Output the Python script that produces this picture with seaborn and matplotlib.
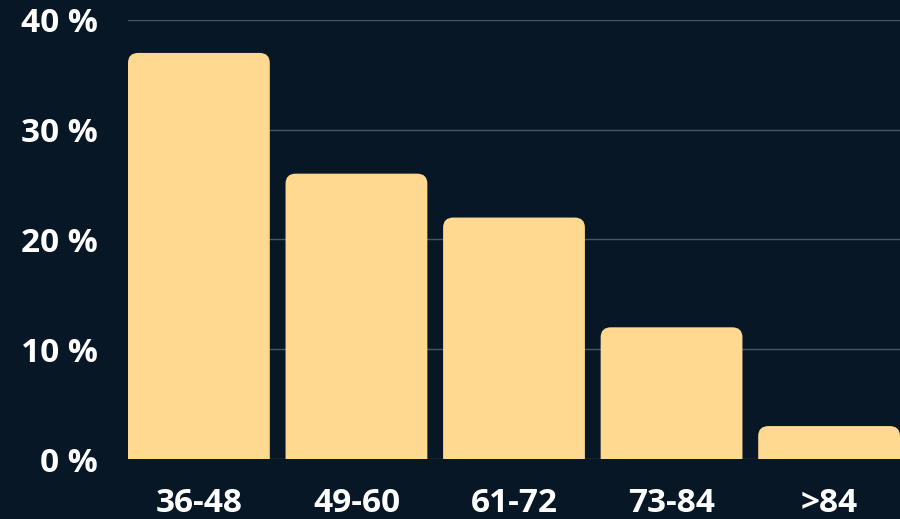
import matplotlib
matplotlib.use("Agg")
import matplotlib.pyplot as plt
from matplotlib.patches import FancyBboxPatch
import pandas as pd
import seaborn as sns

categories = ["36-48", "49-60", "61-72", "73-84", ">84"]
shares = [37, 26, 22, 12, 3]
y_ticks = [0, 10, 20, 30, 40]
y_tick_labels = ["0 %", "10 %", "20 %", "30 %", "40 %"]

BG = "#071726"
BAR = "#FFD98F"
GRID = "#4A5561"

sns.set_theme(style="dark")
plt.rcParams["font.family"] = ["Open Sans", "DejaVu Sans"]

df = pd.DataFrame({"age": categories, "share": shares})

fig = plt.figure(figsize=(9, 5.19), dpi=100)
fig.patch.set_facecolor(BG)
ax = fig.add_axes([128 / 900, 1 - 459 / 519, 1 - 128 / 900, 439 / 519])
ax.set_facecolor(BG)

sns.barplot(data=df, x="age", y="share", color=BAR, width=0.9, saturation=1, ax=ax, zorder=3)

# swap plain bars for bars with rounded tops (bottom corners hang below 0 and get clipped)
for p in list(ax.patches):
    x0, y0 = p.get_x(), p.get_y()
    w, h = p.get_width(), p.get_height()
    p.remove()
    ax.add_patch(FancyBboxPatch((x0, y0 - 2), w, h + 2, boxstyle="round,pad=0,rounding_size=0.065",
                                mutation_aspect=14, facecolor=BAR, edgecolor="none", zorder=3))

ax.set_xlim(-0.45, 4.45)
ax.set_ylim(0, 40)
ax.set_yticks(y_ticks)
ax.set_yticklabels(y_tick_labels)
ax.grid(axis="y", color=GRID, linewidth=1)
ax.grid(axis="x", visible=False)
ax.set_axisbelow(True)
ax.set_xlabel("")
ax.set_ylabel("")
for s in ax.spines.values():
    s.set_visible(False)
ax.tick_params(axis="y", length=0, pad=22, labelsize=24, labelcolor="white")
ax.tick_params(axis="x", length=0, pad=20, labelsize=24, labelcolor="white")
for t in ax.get_xticklabels() + ax.get_yticklabels():
    t.set_fontweight("bold")

fig.savefig("out.png", dpi=100, facecolor=BG)
